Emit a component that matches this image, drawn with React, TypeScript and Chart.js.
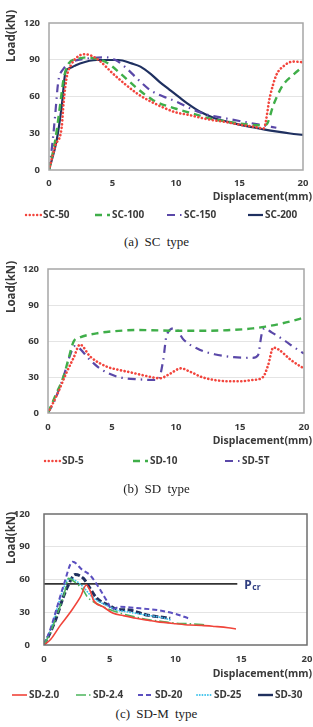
import React, { useEffect, useRef } from "react";
import { Chart, registerables } from "chart.js";

Chart.register(...registerables);

// Shared axis ticks
const xTicks = [0, 5, 10, 15, 20];
const yTicks = [0, 30, 60, 90, 120];

// (a) SC type — load vs displacement
const sc50X = [0, 0.5, 1.0, 1.15, 1.4, 1.7, 2.2, 2.8, 3.4, 4.0, 5.0, 6.0, 7.0, 8.0, 9.0, 10.0, 11.0, 12.0, 13.0, 14.0, 15.0, 16.0, 16.9, 17.4, 17.9, 18.5, 19.2, 20.0];
const sc50Y = [0, 20, 35, 55, 76, 85, 92, 94.5, 93, 89, 79, 70, 62, 56, 51, 47, 45, 42.5, 40.5, 39, 37, 35.5, 34, 60, 77.5, 85, 88.5, 88];
const sc100X = [0, 0.5, 0.9, 1.13, 1.55, 2.2, 3.0, 3.8, 4.5, 5.6, 6.9, 8.2, 10.0, 11.0, 12.7, 14.0, 15.0, 16.6, 17.1, 17.7, 18.4, 19.2, 20.0];
const sc100Y = [0, 25, 55, 73, 87, 90.5, 92, 90.5, 88, 79, 67, 57, 50, 47, 42, 39.5, 38, 36.5, 37, 54, 69, 77.5, 84.5];
const sc150X = [0, 0.25, 0.47, 0.73, 1.1, 1.9, 3.0, 4.5, 5.2, 6.0, 6.9, 8.0, 9.0, 10.0, 11.4, 12.5, 14.0, 15.0, 16.6, 17.9];
const sc150Y = [0, 20, 43, 72, 82, 88.5, 91, 92, 90, 84, 75, 65, 60, 56, 49, 45, 42, 40, 37, 34.5];
const sc200X = [0, 0.6, 1.0, 1.3, 1.6, 2.0, 2.44, 3.75, 5.46, 6.5, 7.2, 8.0, 8.7, 9.5, 10.3, 11.0, 11.9, 13.0, 14.0, 15.0, 16.0, 17.0, 18.0, 19.0, 20.0];
const sc200Y = [0, 24, 52, 80, 83, 85, 87, 89.8, 89.8, 87, 84.4, 78.5, 72, 65.5, 59, 53.5, 47.5, 42.5, 39.5, 37, 35, 33, 31.3, 29.8, 28.6];

// (b) SD type
const sd5X = [0, 0.7, 1.46, 2.0, 2.5, 3.3, 4.6, 5.5, 6.4, 7.7, 8.75, 9.5, 10.4, 11.1, 12.0, 13.0, 14.0, 15.0, 16.0, 16.8, 17.2, 17.6, 18.0, 19.0, 20.0];
const sd5Y = [0, 15, 34, 46, 57, 47, 38.6, 36, 34, 30.8, 28.9, 32.5, 37.2, 34.4, 30, 27.5, 26.5, 26.5, 27.5, 30, 40, 54.5, 53, 44, 37];
const sd10X = [0, 0.6, 1.2, 1.6, 2.0, 2.5, 3.8, 5.0, 6.0, 7.0, 8.0, 10.0, 12.0, 14.0, 16.0, 17.0, 18.0, 19.0, 20.0];
const sd10Y = [0, 15, 30, 45, 59.5, 63, 66.4, 68, 68.8, 69.2, 69, 68.5, 68.5, 69, 70.5, 72, 74, 76.5, 79.5];
const sd5tX = [0, 0.5, 1.2, 1.72, 2.1, 3.3, 4.06, 5.4, 7.2, 8.6, 9.0, 9.27, 9.9, 10.6, 11.9, 13.0, 14.5, 16.0, 16.4, 16.7, 16.9, 17.5, 18.4, 19.2, 20.0];
const sd5tY = [0, 10, 30, 48, 55.8, 44, 37, 30.3, 28, 27.5, 44, 65, 70.6, 61, 52.5, 49, 46.5, 46, 48, 66, 70.5, 67, 61, 55, 49.5];

// (c) SD-M type
const sdm20X = [0, 0.5, 1.24, 2.0, 2.77, 3.22, 3.5, 3.76, 4.5, 5.27, 6.0, 7.0, 8.0, 8.57, 10.0, 11.1, 12.0, 13.0, 14.0, 14.6];
const sdm20Y = [0, 5, 18, 30, 44, 55, 50, 41, 35, 29, 27, 24.5, 22.5, 21.4, 19.5, 18.3, 18, 17, 15.8, 14.7];
const sdm24X = [0, 0.5, 1.0, 1.5, 1.88, 2.3, 3.0, 3.3, 4.0, 5.0, 6.0, 7.0, 8.0, 9.0, 10.0, 11.0, 12.0, 12.4];
const sdm24Y = [0, 12, 28, 45, 61, 58, 50, 44, 38, 32.5, 28.5, 25.5, 23, 21.5, 20, 19.5, 18.7, 18.3];
const sd20X = [0, 0.5, 1.0, 1.5, 2.18, 2.9, 3.5, 4.2, 4.8, 5.15, 5.8, 7.3, 8.6, 10.0, 11.0];
const sd20Y = [0, 15, 35, 55, 76.3, 69, 64, 52, 40, 33, 35, 33.6, 32, 28.5, 24.4];
const sd25X = [0, 0.5, 1.1, 1.7, 2.0, 2.4, 3.0, 3.5, 4.0, 5.0, 5.5, 6.0, 7.0, 8.0, 9.0, 9.6];
const sd25Y = [0, 14, 38, 58, 61, 59, 53, 46, 41, 35, 32, 31, 29, 27, 25, 23];
const sd30X = [0, 0.46, 0.97, 1.47, 1.85, 2.37, 3.0, 3.5, 4.0, 5.0, 5.5, 6.5, 7.8, 8.6, 9.6];
const sd30Y = [0, 11, 26, 44, 55, 64.5, 61, 52, 43, 36, 33, 32, 27.5, 26, 24.5];
// critical load level
const pcrX = [0, 14.7];
const pcrY = [56, 56];

const FONT = "'Noto Sans', 'DejaVu Sans', sans-serif";
const TEXT = "#3a3a3a";
const W = 313;
const XH = 22;

type Series = {
  label: string;
  xs: number[];
  ys: number[];
  color: string;
  width: number;
  dash: number[];
  cap?: "butt" | "round";
  legend?: boolean;
  legendDash?: number[];
  tension?: number;
};

type Panel = {
  top: number;
  height: number;
  area: { left: number; right: number; top: number; bottom: number };
  series: Series[];
  legendX: number[];
  legendY: number;
  titleY: number;
  loadY: number;
  frame: string;
  yPad: number;
  xPad: number;
  pcr?: string;
};

const dotted = (color: string, w = 2.6, gap = 3.6) => ({ color, width: w, dash: [0.1, gap], cap: "round" as const });

const panels: Panel[] = [
  {
    top: 0,
    height: 228,
    area: { left: 49, right: 303, top: 23, bottom: 170 },
    series: [
      { label: "SC-50", xs: sc50X, ys: sc50Y, ...dotted("#f2453d") },
      { label: "SC-100", xs: sc100X, ys: sc100Y, color: "#3fae49", width: 2.4, dash: [7, 5] },
      { label: "SC-150", xs: sc150X, ys: sc150Y, color: "#5a48a8", width: 2.2, dash: [8, 5, 1.5, 5] },
      { label: "SC-200", xs: sc200X, ys: sc200Y, color: "#1f3060", width: 2.2, dash: [] },
    ],
    legendX: [26, 95, 167, 248],
    legendY: 215,
    titleY: 197,
    loadY: 36,
    frame: "#a6a6a6",
    yPad: 9,
    xPad: 8,
  },
  {
    top: 250,
    height: 222,
    area: { left: 48, right: 304, top: 269, bottom: 413 },
    series: [
      { label: "SD-5", xs: sd5X, ys: sd5Y, ...dotted("#f2453d") },
      { label: "SD-10", xs: sd10X, ys: sd10Y, color: "#3fae49", width: 2.4, dash: [7, 5] },
      { label: "SD-5T", xs: sd5tX, ys: sd5tY, color: "#5a48a8", width: 2.2, dash: [8, 5, 1.5, 5] },
    ],
    legendX: [45, 133, 225],
    legendY: 461,
    titleY: 441,
    loadY: 287,
    frame: "#a6a6a6",
    yPad: 9,
    xPad: 9,
  },
  {
    top: 495,
    height: 208,
    area: { left: 44, right: 307, top: 514, bottom: 645 },
    series: [
      { label: "SD-2.0", xs: sdm20X, ys: sdm20Y, color: "#f0443a", width: 1.6, dash: [] },
      { label: "SD-2.4", xs: sdm24X, ys: sdm24Y, color: "#4cb55c", width: 1.6, dash: [10, 3, 1.5, 3] },
      { label: "SD-20", xs: sd20X, ys: sd20Y, color: "#5b4fbf", width: 2, dash: [5, 3] },
      { label: "SD-25", xs: sd25X, ys: sd25Y, ...dotted("#3ec3ec", 1.8, 2.6) },
      { label: "SD-30", xs: sd30X, ys: sd30Y, color: "#20305e", width: 3, dash: [6, 2.5], legendDash: [] },
      { label: "Pcr", xs: pcrX, ys: pcrY, color: "#333333", width: 1.6, dash: [], legend: false, tension: 0 },
    ],
    legendX: [12, 76, 138, 197, 258],
    legendY: 695,
    titleY: 674,
    loadY: 538,
    frame: "#6e6e6e",
    yPad: 14,
    xPad: 9,
    pcr: "Pcr",
  },
];

const captions = [
  { text: "(a) SC type", y: 242 },
  { text: "(b) SD type", y: 489 },
  { text: "(c) SD-M type", y: 714 },
];

function decor(p: Panel) {
  return {
    id: "decor",
    afterDatasetsDraw(chart: any) {
      const { ctx, chartArea: a } = chart;
      ctx.save();
      ctx.strokeStyle = p.frame;
      ctx.lineWidth = 1.5;
      ctx.strokeRect(a.left, a.top, a.right - a.left, a.bottom - a.top);
      ctx.restore();
    },
    afterDraw(chart: any) {
      const { ctx } = chart;
      ctx.save();
      ctx.fillStyle = TEXT;
      // axis titles
      ctx.font = `bold 10.5px ${FONT}`;
      ctx.textAlign = "right";
      ctx.textBaseline = "middle";
      ctx.fillText("Displacement(mm)", 312, p.titleY - p.top);
      ctx.save();
      ctx.translate(12, p.loadY - p.top);
      ctx.rotate(-Math.PI / 2);
      ctx.textAlign = "center";
      ctx.font = `bold 11.5px ${FONT}`;
      ctx.fillText("Load(kN)", 0, 0);
      ctx.restore();

      // legend
      const items = p.series.filter((s) => s.legend !== false);
      const ly = p.legendY - p.top;
      items.forEach((s, i) => {
        const x0 = p.legendX[i];
        ctx.save();
        ctx.strokeStyle = s.color;
        ctx.lineWidth = Math.min(s.width, 2.4);
        ctx.lineCap = s.cap ?? "butt";
        ctx.setLineDash(s.legendDash ?? s.dash);
        ctx.beginPath();
        ctx.moveTo(x0, ly);
        ctx.lineTo(x0 + 15, ly);
        ctx.stroke();
        ctx.restore();
        ctx.font = `bold 10px ${FONT}`;
        ctx.textAlign = "left";
        ctx.textBaseline = "middle";
        ctx.fillStyle = TEXT;
        ctx.fillText(s.label, x0 + 17, ly);
      });

      // critical load label
      if (p.pcr) {
        const xs = chart.scales.x;
        const ys = chart.scales.y;
        const px = xs.getPixelForValue(pcrX[pcrX.length - 1]) + 7;
        const py = ys.getPixelForValue(pcrY[pcrY.length - 1]);
        ctx.fillStyle = "#2f3d80";
        ctx.textAlign = "left";
        ctx.textBaseline = "alphabetic";
        ctx.font = `bold 12px ${FONT}`;
        ctx.fillText("P", px, py + 5);
        const pw = ctx.measureText("P").width;
        ctx.font = `bold 8.5px ${FONT}`;
        ctx.fillText("cr", px + pw + 0.5, py + 6);
      }
      ctx.restore();
    },
  };
}

function PanelChart({ p }: { p: Panel }) {
  const ref = useRef<HTMLCanvasElement | null>(null);
  useEffect(() => {
    const canvas = ref.current;
    if (!canvas) return;
    const tickFont = { family: FONT, size: 9.5, weight: "bold" as const };
    const chart = new Chart(canvas, {
      type: "line",
      data: {
        datasets: p.series.map((s) => ({
          label: s.label,
          data: s.xs.map((x, i) => ({ x, y: s.ys[i] })),
          borderColor: s.color,
          backgroundColor: s.color,
          borderWidth: s.width,
          borderDash: s.dash,
          borderCapStyle: s.cap ?? "butt",
          pointRadius: 0,
          fill: false,
          tension: s.tension ?? 0.4,
          cubicInterpolationMode: s.tension === 0 ? "default" : "monotone",
        })),
      },
      options: {
        responsive: false,
        animation: false,
        devicePixelRatio: 1,
        layout: {
          padding: {
            left: 0,
            top: p.area.top - p.top,
            right: W - p.area.right,
            bottom: p.height - (p.area.bottom - p.top) - XH,
          },
        },
        plugins: { legend: { display: false }, tooltip: { enabled: false } },
        scales: {
          x: {
            type: "linear",
            min: 0,
            max: 20,
            afterBuildTicks: (s: any) => {
              s.ticks = xTicks.map((v) => ({ value: v }));
            },
            afterFit: (s: any) => {
              s.height = XH;
              s.paddingLeft = 0;
              s.paddingRight = 0;
            },
            grid: { display: false, drawTicks: false },
            border: { display: false },
            ticks: { padding: p.xPad, font: tickFont, color: TEXT, maxRotation: 0, autoSkip: false },
          },
          y: {
            type: "linear",
            min: 0,
            max: 120,
            afterBuildTicks: (s: any) => {
              s.ticks = yTicks.map((v) => ({ value: v }));
            },
            afterFit: (s: any) => {
              s.width = p.area.left;
              s.paddingTop = 0;
              s.paddingBottom = 0;
            },
            grid: {
              drawTicks: false,
              color: (c: any) => (c.tick && (c.tick.value === 0 || c.tick.value === 120) ? "rgba(0,0,0,0)" : "#e4e4e4"),
              lineWidth: 1,
            },
            border: { display: false },
            ticks: { padding: p.yPad, font: tickFont, color: TEXT, autoSkip: false },
          },
        },
      } as any,
      plugins: [decor(p)],
    });
    return () => chart.destroy();
  }, [p]);
  return (
    <canvas
      ref={ref}
      width={W}
      height={p.height}
      style={{ position: "absolute", left: 0, top: p.top, width: W, height: p.height }}
    />
  );
}

export default function App() {
  return (
    <div style={{ position: "absolute", left: 0, top: 0, width: W, height: 727, background: "#fff", overflow: "hidden" }}>
      {panels.map((p, i) => (
        <PanelChart key={i} p={p} />
      ))}
      {captions.map((c, i) => (
        <div
          key={i}
          style={{
            position: "absolute",
            left: 0,
            width: W,
            top: c.y - 8,
            height: 16,
            lineHeight: "16px",
            textAlign: "center",
            fontFamily: "'Liberation Serif', 'Times New Roman', serif",
            fontSize: 13,
            wordSpacing: 3,
            color: "#222",
          }}
        >
          {c.text}
        </div>
      ))}
    </div>
  );
}
